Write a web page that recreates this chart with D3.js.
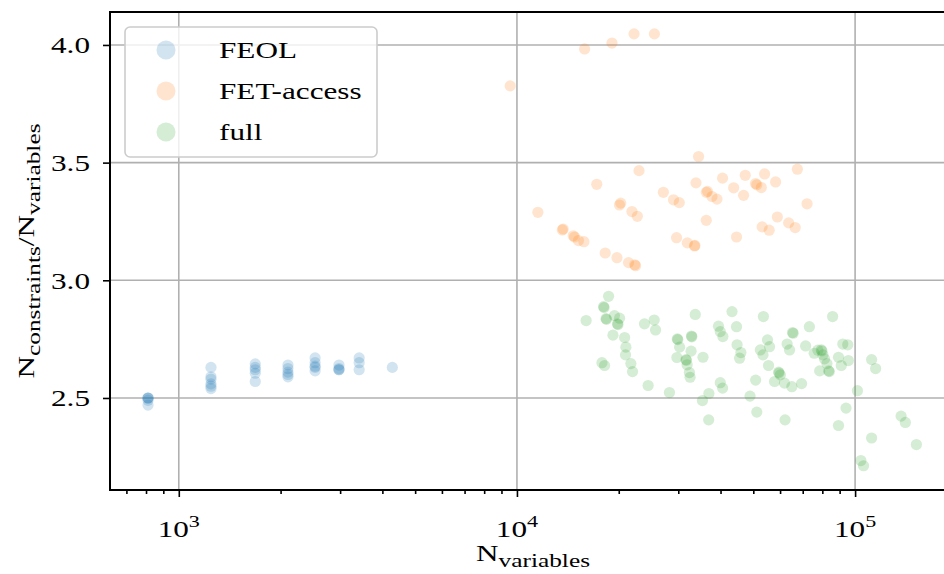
<!DOCTYPE html>
<html><head><meta charset="utf-8">
<script src="https://cdn.jsdelivr.net/npm/d3@7"></script>
<style>
html,body{margin:0;padding:0;background:#fff;}
svg{display:block;}
text{font-family:"Liberation Serif","DejaVu Serif",serif;fill:#000;}
</style></head>
<body><svg id="chart" width="944" height="574"></svg>
<script>
// ---- data ----
const seriesNames = ["FEOL","FET-access","full"];
const seriesColors = ["#1f77b4","#ff7f0e","#2ca02c"];

const feolN = [811,811,811,811,811, 1245,1245,1245,1245,1245,1245, 1683,1683,1683,1683,1683, 2103,2103,2103,2103,2103, 2530,2530,2530,2530,2530, 2976,2976,2976,2976, 3415,3415,3415, 4280];
const feolR = [2.50,2.50,2.50,2.49,2.47, 2.63,2.59,2.58,2.56,2.55,2.54, 2.645,2.63,2.62,2.605,2.57, 2.64,2.625,2.61,2.60,2.59, 2.67,2.65,2.635,2.63,2.615, 2.64,2.625,2.62,2.62, 2.67,2.65,2.62, 2.63];

const fetN = [9550,15850,19100,22200,25500,11530,17220,22960,20270,20100,21880,22700,13620,13700,14670,14800,15200,15780,18240,19760,21380,22430,22300,
  34440,27100,29040,30200,33840,36300,36600,37740,39040,40550,43740,46800,47330,50770,51200,52800,54000,58200,67500,72100,36300,29650,31900,33500,33600,44600,53100,55700,58900,63600,66500];
const fetR = [3.826,3.983,4.008,4.047,4.047,3.289,3.408,3.466,3.328,3.320,3.292,3.272,3.214,3.218,3.189,3.184,3.169,3.164,3.116,3.096,3.075,3.062,3.066,
  3.526,3.374,3.342,3.330,3.414,3.374,3.378,3.356,3.345,3.434,3.393,3.361,3.446,3.411,3.406,3.394,3.452,3.418,3.472,3.325,3.255,3.181,3.159,3.146,3.148,3.184,3.227,3.213,3.269,3.244,3.224];

const fullN = [18660,18040,18100,16020,18340,18400,19420,20110,19830,19900,19230,20820,21000,20950,21720,21970,17840,18160,23830,25460,25700,24430,28250,
  33680,29800,29900,32820,32900,30270,32730,29720,31620,31700,31860,32360,32510,35500,
  43250,53560,85800,39450,44600,73250,39930,40640,65300,65600,44770,45950,45540,55080,55840,52450,53400,62950,64000,71400,55460,59400,59600,60100,
  50800,57800,61830,65000,69450,75700,77620,79430,79800,80330,81210,82560,78570,83560,83900,91950,95100,89300,95500,91000,111900,115000,101600,
  39930,40570,36950,35360,48900,36900,51200,62070,94000,89300,111900,136800,140800,151800,104000,105900];
const fullR = [2.932,2.888,2.884,2.829,2.837,2.834,2.850,2.839,2.815,2.812,2.767,2.757,2.716,2.683,2.646,2.612,2.650,2.638,2.815,2.831,2.789,2.553,2.523,
  2.855,2.751,2.748,2.763,2.760,2.716,2.699,2.672,2.663,2.660,2.641,2.608,2.588,2.673,
  2.867,2.846,2.846,2.805,2.803,2.803,2.782,2.761,2.778,2.775,2.726,2.693,2.669,2.747,2.718,2.704,2.683,2.729,2.704,2.721,2.638,2.610,2.606,2.598,
  2.576,2.570,2.563,2.548,2.561,2.690,2.703,2.704,2.700,2.683,2.666,2.646,2.615,2.615,2.612,2.729,2.726,2.673,2.659,2.638,2.663,2.625,2.531,
  2.565,2.542,2.519,2.489,2.508,2.407,2.440,2.407,2.457,2.383,2.330,2.423,2.396,2.302,2.234,2.212];

const yTicks = [2.5,3.0,3.5,4.0];
const xMajorTicks = [1e3,1e4,1e5];
const xTickExp = ["3","4","5"];

// ---- layout ----
const SX = 1.3; // horizontal stretch of the serif glyphs
const svg = d3.select("#chart");
const L = 110, T = 12, R = 946, B = 490;
const x = d3.scaleLog().domain([626, 185700]).range([L, R]);
const y = d3.scaleLinear().domain([2.109, 4.14]).range([B, T]);

// grid
const g = svg.append("g");
g.selectAll("line.gx").data(xMajorTicks).join("line")
  .attr("x1", d => x(d)).attr("x2", d => x(d)).attr("y1", T).attr("y2", B)
  .attr("stroke", "#b0b0b0").attr("stroke-width", 1.6);
g.selectAll("line.gy").data(yTicks).join("line")
  .attr("x1", L).attr("x2", R).attr("y1", d => y(d)).attr("y2", d => y(d))
  .attr("stroke", "#b0b0b0").attr("stroke-width", 1.6);

// points
const series = [
  {name: seriesNames[0], color: seriesColors[0], n: feolN, r: feolR},
  {name: seriesNames[1], color: seriesColors[1], n: fetN, r: fetR},
  {name: seriesNames[2], color: seriesColors[2], n: fullN, r: fullR}
];
const pts = svg.append("g");
series.forEach(s => {
  const data = s.n.map((v, i) => [v, s.r[i]]);
  pts.append("g").selectAll("circle").data(data).join("circle")
    .attr("cx", d => x(d[0])).attr("cy", d => y(d[1])).attr("r", 5.6)
    .attr("fill", s.color).attr("fill-opacity", 0.2);
});

// axes ticks
const xMinor = [];
[100, 1000, 10000, 100000].forEach(dec => { for (let k = 2; k <= 9; k++) { const v = dec * k; if (v > 626 && v < 185700) xMinor.push(v); } });
const xAxisMajor = d3.axisBottom(x).tickValues(xMajorTicks).tickSize(7).tickFormat("");
const xAxisMinor = d3.axisBottom(x).tickValues(xMinor).tickSize(4).tickFormat("");
const gx1 = svg.append("g").attr("transform", `translate(0,${B})`).call(xAxisMajor);
const gx2 = svg.append("g").attr("transform", `translate(0,${B})`).call(xAxisMinor);
[gx1, gx2].forEach(a => { a.select(".domain").remove(); a.selectAll("line").attr("stroke", "#000").attr("stroke-width", 1.6); });

const yAxis = d3.axisLeft(y).tickValues(yTicks).tickSize(7).tickFormat("");
const gy = svg.append("g").attr("transform", `translate(${L},0)`).call(yAxis);
gy.select(".domain").remove();
gy.selectAll("line").attr("stroke", "#000").attr("stroke-width", 1.6);

// y tick labels
svg.append("g").selectAll("text").data(yTicks).join("text")
  .attr("transform", d => `translate(90,${y(d)}) scale(${SX},1)`)
  .attr("text-anchor", "end").attr("dy", "0.35em").attr("font-size", 24)
  .text(d3.format(".1f"));

// x tick labels with superscripts
const xl = svg.append("g").selectAll("text").data(xMajorTicks).join("text")
  .attr("transform", d => `translate(${x(d)},537) scale(${SX},1)`)
  .attr("text-anchor", "middle").attr("font-size", 24);
xl.append("tspan").text("10");
xl.append("tspan").attr("dy", -10).attr("font-size", 17).text((d, i) => xTickExp[i]);

// spines
svg.append("rect").attr("x", L).attr("y", T).attr("width", R - L).attr("height", B - T)
  .attr("fill", "none").attr("stroke", "#000").attr("stroke-width", 2);

// axis labels
const xlab = svg.append("text").attr("transform", `translate(533,561) scale(${SX},1)`).attr("text-anchor", "middle").attr("font-size", 24);
xlab.append("tspan").text("N");
xlab.append("tspan").attr("dy", 6).attr("font-size", 19.5).text("variables");

const ylab = svg.append("text").attr("transform", `translate(34,${(T + B) / 2}) rotate(-90) scale(${SX},1)`).attr("text-anchor", "middle").attr("font-size", 24);
ylab.append("tspan").text("N");
ylab.append("tspan").attr("dy", 6).attr("font-size", 19.5).text("constraints");
ylab.append("tspan").attr("dy", -6).text("/N");
ylab.append("tspan").attr("dy", 6).attr("font-size", 19.5).text("variables");

// legend
const lg = svg.append("g");
lg.append("rect").attr("x", 125).attr("y", 27).attr("width", 252).attr("height", 130).attr("rx", 5)
  .attr("fill", "#fff").attr("fill-opacity", 0.8).attr("stroke", "#cccccc").attr("stroke-width", 1.6);
const li = lg.selectAll("g.item").data(series).join("g").attr("transform", (d, i) => `translate(0,${50 + i * 41})`);
li.append("circle").attr("cx", 166).attr("cy", 0).attr("r", 9.5).attr("fill", d => d.color).attr("fill-opacity", 0.2);
li.append("text").attr("transform", `translate(219,0) scale(${SX},1)`).attr("dy", "0.35em").attr("font-size", 24).text(d => d.name);
</script></body></html>
